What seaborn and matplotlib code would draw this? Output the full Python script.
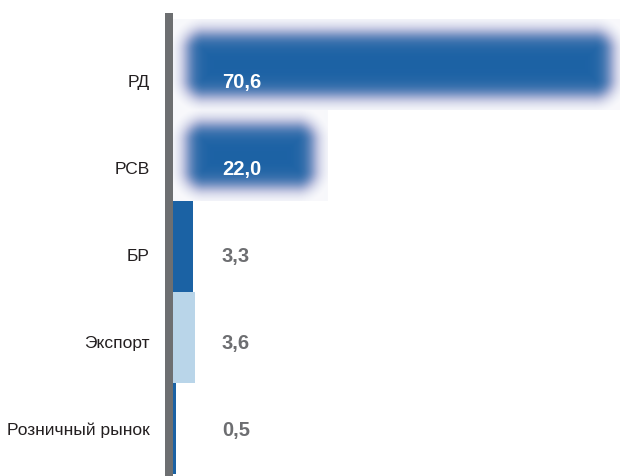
import numpy as np
import matplotlib
matplotlib.use("Agg")
import matplotlib.pyplot as plt
import matplotlib.transforms as mtransforms
from matplotlib.lines import Line2D
from matplotlib.colors import to_rgb
import seaborn as sns
import pandas as pd

# ── данные ───────────────────────────────────────────────────────────────
categories = ["РД", "РСВ", "БР", "Экспорт", "Розничный рынок"]
values     = [70.6, 22.0, 3.3, 3.6, 0.5]
bar_colors = ["#1b62a4", "#1b62a4", "#1b62a4", "#b9d5e9", "#1b62a4"]
glow       = [True, True, False, False, False]
label_cols = ["white", "white", "#6d6e71", "#6d6e71", "#6d6e71"]

AXIS_GRAY = "#6d6f71"
FONT = ["Liberation Sans", "DejaVu Sans"]

sns.set_theme(style="white")
plt.rcParams["font.family"] = FONT

df = pd.DataFrame({"cat": categories, "val": values})

fig = plt.figure(figsize=(6.2, 4.77), dpi=100)
ax = fig.add_axes([173 / 620, 2 / 477, (620 - 173) / 620, (475 - 20) / 477])

sns.barplot(data=df, x="val", y="cat", hue="cat", palette=bar_colors,
            width=1.0, legend=False, ax=ax, saturation=1, linewidth=0)

ax.set_xlim(0, 73)
ax.set_ylim(4.5, -0.5)
sns.despine(ax=ax, left=True, bottom=True)
ax.set_xticks([])
ax.set_yticks([])
ax.set_xlabel("")
ax.set_ylabel("")

# ── размытые «светящиеся» бары ───────────────────────────────────────────
fig.canvas.draw()
px_per_unit = ax.transData.transform((1, 0))[0] - ax.transData.transform((0, 0))[0]
core = np.array(to_rgb("#1b62a4"))
edge = np.array(to_rgb("#4d5aa8"))
pad_px, radius_px = 20, 18
edge_in, sigma = 13, 9.5

for patch, g in zip(ax.patches, glow):
    if not g:
        continue
    x0, w = patch.get_x(), patch.get_width()
    y0, h = patch.get_y(), patch.get_height()
    x1 = x0 + w + pad_px / px_per_unit
    bb = ax.transData.transform([(x0, y0), (x1, y0 + h)])
    W = int(abs(bb[1, 0] - bb[0, 0])) * 2
    H = int(abs(bb[1, 1] - bb[0, 1])) * 2
    xs = (np.arange(W) + 0.5) / 2
    ys = (np.arange(H) + 0.5) / 2
    X, Y = np.meshgrid(xs, ys)
    hw, hh = W / 4, H / 4
    # прямоугольник со скруглёнными углами, утопленный внутрь
    qx = np.abs(X - hw) - (hw - edge_in - radius_px)
    qy = np.abs(Y - hh) - (hh - edge_in - radius_px)
    outside = np.hypot(np.maximum(qx, 0), np.maximum(qy, 0))
    sd = outside + np.minimum(np.maximum(qx, qy), 0) - radius_px
    t = 0.5 * (1 + np.tanh(-sd / sigma * 0.95))
    c = np.clip(t * 1.4 - 0.4, 0, 1)
    rgb = edge[None, None, :] * (1 - c[..., None]) + core[None, None, :] * c[..., None]
    img = np.dstack([rgb, np.maximum(t, 0.04)])
    patch.set_visible(False)
    ax.imshow(img, extent=(x0, x1, y0 + h, y0), aspect="auto",
              interpolation="bilinear", zorder=2)

ax.set_xlim(0, 73)
ax.set_ylim(4.5, -0.5)

# ── подписи ──────────────────────────────────────────────────────────────
ylab = mtransforms.blended_transform_factory(ax.transAxes, ax.transData)
for i, (cat, val, col) in enumerate(zip(categories, values, label_cols)):
    nudge = (17 - 4 * i) / 100
    ax.text(0, i, cat, ha="right", va="center", fontsize=12.5, color="#231f20",
            transform=ylab + mtransforms.ScaledTranslation(-23 / 100, -nudge, fig.dpi_scale_trans))
    ax.text(8.0, i, f"{val:.1f}".replace(".", ","), ha="left", va="center",
            fontsize=14.5, fontweight="bold", color=col, zorder=5,
            transform=ax.transData + mtransforms.ScaledTranslation(0, -nudge, fig.dpi_scale_trans))

# вертикальная серая ось
fig.add_artist(Line2D([169 / 620, 169 / 620], [0, 1 - 14 / 477],
                      transform=fig.transFigure, lw=8 * 0.72, color=AXIS_GRAY,
                      solid_capstyle="butt"))

fig.savefig("out.png", dpi=100)
